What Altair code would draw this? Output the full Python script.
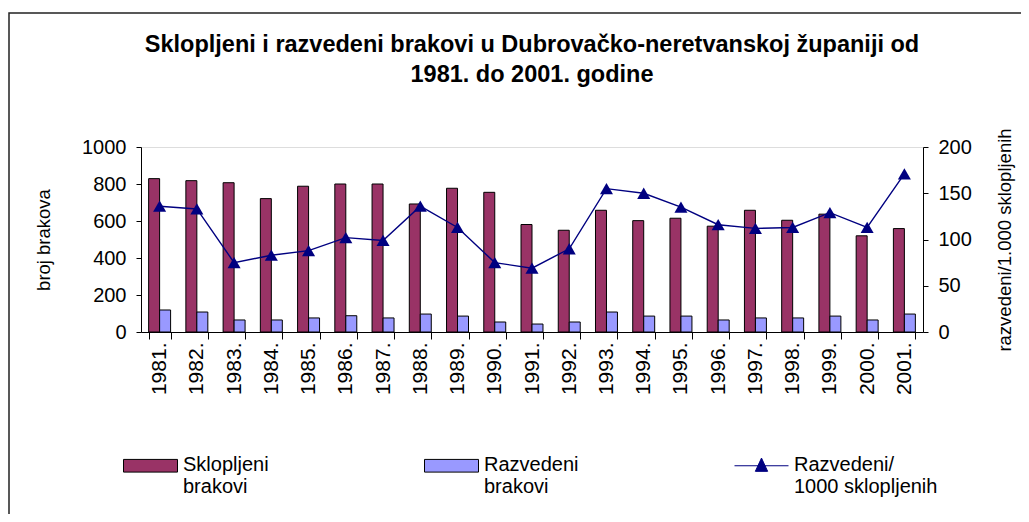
import altair as alt
import pandas as pd

years = ["1981.", "1982.", "1983.", "1984.", "1985.", "1986.", "1987.", "1988.",
         "1989.", "1990.", "1991.", "1992.", "1993.", "1994.", "1995.", "1996.",
         "1997.", "1998.", "1999.", "2000.", "2001."]
sklopljeni = [829, 818, 807, 721, 788, 800, 800, 692, 777, 755, 581,
              550, 658, 602, 615, 572, 658, 604, 637, 520, 559]
razvedeni = [119, 108, 65, 65, 76, 88, 76, 97, 86, 54, 43,
             54, 108, 86, 86, 65, 76, 76, 86, 65, 97]
na_1000 = [136, 133, 75, 83, 88, 102, 99, 136, 113, 75, 69,
           90, 155, 150, 135, 116, 112, 113, 129, 113, 171]

series_names = ["Sklopljeni brakovi", "Razvedeni brakovi", "Razvedeni/1000 sklopljenih"]
series_colors = ["#993366", "#9999FF", "#000080"]
title_lines = ["Sklopljeni i razvedeni brakovi u Dubrovačko-neretvanskoj županiji od",
               "1981. do 2001. godine"]
left_ticks = [0, 200, 400, 600, 800, 1000]
right_ticks = [0, 50, 100, 150, 200]

bar_df = pd.DataFrame({
    "year": years * 2,
    "series": [series_names[0]] * len(years) + [series_names[1]] * len(years),
    "value": sklopljeni + razvedeni,
})
ratio_df = pd.DataFrame({"year": years, "ratio": na_1000,
                         "series": [series_names[2]] * len(years)})

FONT = "Liberation Sans"
fill_scale = alt.Scale(domain=series_names, range=series_colors)

line_sym = "M-1,-0.185L1,-0.185M0,-0.47L0.228,0.022L-0.228,0.022Z"
rect_sym = "M-1,-0.42L1,-0.42L1,0.05L-1,0.05Z"

legend = alt.Legend(
    title=None, orient="none", legendX=-18, legendY=296, direction="horizontal",
    columnPadding=153, labelFont=FONT, labelFontSize=20, labelColor="black",
    labelLimit=400, labelOffset=5, labelBaseline="alphabetic",
    labelExpr="datum.label == 'Razvedeni/1000 sklopljenih' ? ['Razvedeni/', '1000 sklopljenih'] : split(datum.label, ' ')",
    symbolSize=2916, symbolStrokeWidth=1, symbolOpacity=1,
    symbolType=alt.ExprRef(f"datum.value == 'Razvedeni/1000 sklopljenih' ? '{line_sym}' : '{rect_sym}'"),
    symbolStrokeColor=alt.ExprRef("datum.value == 'Razvedeni/1000 sklopljenih' ? '#000080' : '#000000'"),
)

frame = alt.Chart(pd.DataFrame({"k": [0]})).mark_rect(
    fillOpacity=0, stroke="#222222", strokeWidth=1.5
).encode(x=alt.value(-132), x2=alt.value(1000), y=alt.value(-134), y2=alt.value(600))

bars = alt.Chart(bar_df).mark_bar(stroke="black", strokeWidth=1, opacity=1).encode(
    x=alt.X("year:N", sort=years,
            scale=alt.Scale(paddingInner=0.41, paddingOuter=0.205),
            axis=alt.Axis(title=None, labelAngle=270, labelFont=FONT, labelFontSize=21,
                          labelColor="black", labelPadding=3, tickBand="extent",
                          tickSize=7, tickColor="black", domainColor="black")),
    xOffset=alt.XOffset("series:N", sort=series_names[:2],
                        scale=alt.Scale(paddingInner=0, paddingOuter=0)),
    y=alt.Y("value:Q", scale=alt.Scale(domain=[0, 1000], nice=False),
            axis=alt.Axis(orient="left", values=left_ticks, format="d",
                          title="broj brakova",
                          titleFont=FONT, titleFontSize=18.5, titleFontWeight="normal",
                          titleColor="black", titlePadding=28,
                          labelFont=FONT, labelFontSize=20, labelColor="black",
                          labelPadding=10, tickSize=5, tickColor="black",
                          domainColor="black", grid=False)),
    fill=alt.Fill("series:N", scale=fill_scale, legend=legend),
)

line = alt.Chart(ratio_df).mark_line(color="#000080", strokeWidth=1.4).encode(
    x=alt.X("year:N", sort=years),
    y=alt.Y("ratio:Q", scale=alt.Scale(domain=[0, 200], nice=False),
            axis=alt.Axis(orient="right", values=right_ticks, format="d",
                          title="razvedeni/1.000 sklopljenih", titleAngle=270,
                          titleFont=FONT, titleFontSize=18.5, titleFontWeight="normal",
                          titleColor="black", titlePadding=43,
                          labelFont=FONT, labelFontSize=20, labelColor="black",
                          labelPadding=10, tickSize=5, tickColor="black",
                          domainColor="black", grid=False)),
)

points = alt.Chart(ratio_df).mark_point(shape="triangle-up", filled=True, size=170,
                                        opacity=1).encode(
    x=alt.X("year:N", sort=years),
    y=alt.Y("ratio:Q", scale=alt.Scale(domain=[0, 200], nice=False), axis=None),
    fill=alt.Fill("series:N", scale=fill_scale),
)

chart = alt.layer(frame, bars, line, points).resolve_scale(
    y="independent"
).properties(
    width=782, height=185,
    padding={"left": 133, "top": 139, "right": 98, "bottom": 182},
    autosize=alt.AutoSizeParams(type="none"),
    title=alt.Title(title_lines, font=FONT, fontSize=23.5, fontWeight="bold",
                    color="black", anchor="middle", frame="group", offset=-74,
                    lineHeight=30),
).configure_view(stroke="transparent").configure(background="white")

chart.save("out.html", embed_options={"renderer": "svg", "actions": False})
